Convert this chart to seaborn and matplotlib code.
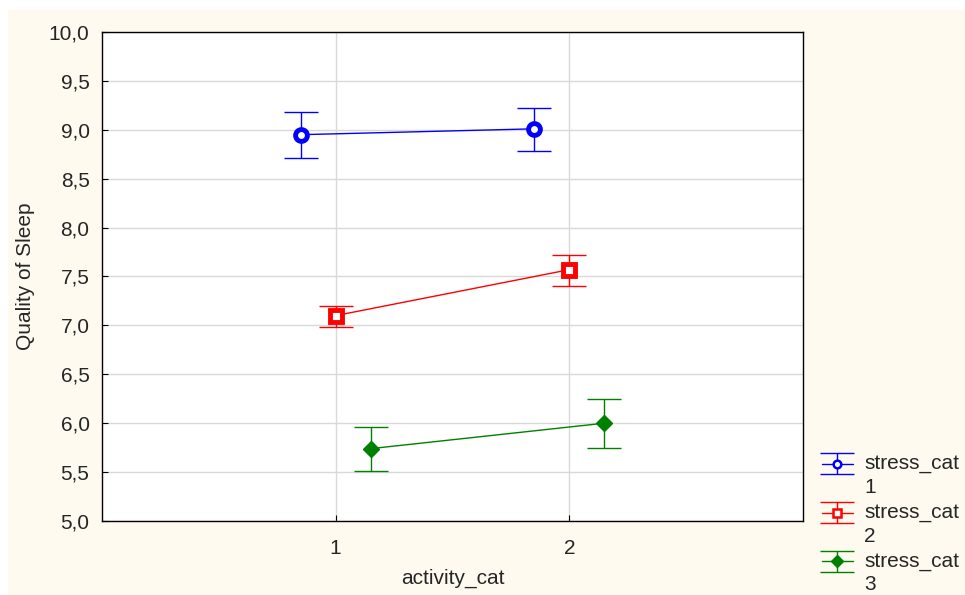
import numpy as np
import pandas as pd
import matplotlib
matplotlib.use("Agg")
import matplotlib.pyplot as plt
import seaborn as sns
from matplotlib.ticker import FuncFormatter, MultipleLocator
from matplotlib.patches import Rectangle
from matplotlib.lines import Line2D
from matplotlib.legend_handler import HandlerTuple

# data
activity = [1, 2]
stress_groups = ["1", "2", "3"]
offsets = [-0.15, 0.0, 0.15]
means = {
    "1": [8.95, 9.01],
    "2": [7.10, 7.57],
    "3": [5.74, 6.00],
}
lower = {
    "1": [8.71, 8.78],
    "2": [6.98, 7.40],
    "3": [5.51, 5.75],
}
upper = {
    "1": [9.18, 9.22],
    "2": [7.20, 7.72],
    "3": [5.96, 6.25],
}
colors = ["#0000ff", "#ff0000", "#008000"]
markers = ["o", "s", "D"]

rows = []
for g, off in zip(stress_groups, offsets):
    for i, a in enumerate(activity):
        rows.append({"stress": g, "x": a + off, "mean": means[g][i],
                     "lo": lower[g][i], "hi": upper[g][i]})
df = pd.DataFrame(rows)


class TopHandler(HandlerTuple):
    # put the legend symbol level with the first text line
    def create_artists(self, legend, orig_handle, xdescent, ydescent,
                       width, height, fontsize, trans):
        return super().create_artists(legend, orig_handle, xdescent,
                                      ydescent - 17, width, height,
                                      fontsize, trans)


sns.set_style("white")
plt.rcParams["font.family"] = ["Liberation Sans", "DejaVu Sans"]
FS = 15

fig = plt.figure(figsize=(9.65, 5.95), dpi=100, facecolor="white")
fig.patches.append(Rectangle((8 / 965, 0), 1, 1 - 10 / 595, transform=fig.transFigure,
                             facecolor="#fffaf0", edgecolor="none", zorder=-10))
ax = fig.add_axes([102 / 965, 74 / 595, 701 / 965, 489 / 595])
ax.set_facecolor("white")

handles = []
for g, c, m in zip(stress_groups, colors, markers):
    sub = df[df["stress"] == g]
    sns.lineplot(data=sub, x="x", y="mean", color=c, lw=1, ax=ax,
                 legend=False, zorder=3)
    yerr = np.vstack([sub["mean"] - sub["lo"], sub["hi"] - sub["mean"]])
    eb = ax.errorbar(sub["x"], sub["mean"], yerr=yerr, fmt="none",
                     ecolor=c, elinewidth=1, capsize=12, capthick=1, zorder=4)
    if m == "D":
        mfc, mew, ms = c, 1, 8
    else:
        mfc, mew, ms = "white", 3.5, 8.5
    ax.plot(sub["x"], sub["mean"], ls="none", marker=m, mfc=mfc,
            mec=c, mew=mew, ms=ms, zorder=5)
    leg_line = Line2D([], [], color=c, lw=1, marker=m, ms=5.5 if m != "D" else 6,
                      mfc=mfc, mec=c, mew=1.8 if m != "D" else 1)
    handles.append((eb, leg_line))

ax.set_xlim(0, 3)
ax.set_ylim(5, 10)
ax.set_xticks(activity)
ax.yaxis.set_major_locator(MultipleLocator(0.5))
ax.yaxis.set_major_formatter(FuncFormatter(lambda v, p: f"{v:.1f}".replace(".", ",")))
ax.grid(True, color="#d9d9d9", lw=1)
ax.set_axisbelow(True)
for s in ax.spines.values():
    s.set_color("black")
    s.set_linewidth(1)
ax.tick_params(direction="in", length=4, color="black", labelsize=FS,
               left=True, bottom=True)
ax.tick_params(axis="x", pad=13)
ax.tick_params(axis="y", pad=9)
ax.set_xlabel("activity_cat", fontsize=FS, labelpad=8)
ax.set_ylabel("Quality of Sleep", fontsize=FS, labelpad=10)

leg = fig.legend(handles, [f"stress_cat\n{g}" for g in stress_groups],
                 loc="lower left", bbox_to_anchor=(803 / 965, -18 / 595),
                 frameon=False, fontsize=FS, handlelength=1.5, handletextpad=0.55,
                 labelspacing=0.3, handler_map={tuple: TopHandler(ndivide=1)})
for t in leg.get_texts():
    t.set_linespacing(1.3)

fig.savefig("out.png", dpi=100, facecolor=fig.get_facecolor())
